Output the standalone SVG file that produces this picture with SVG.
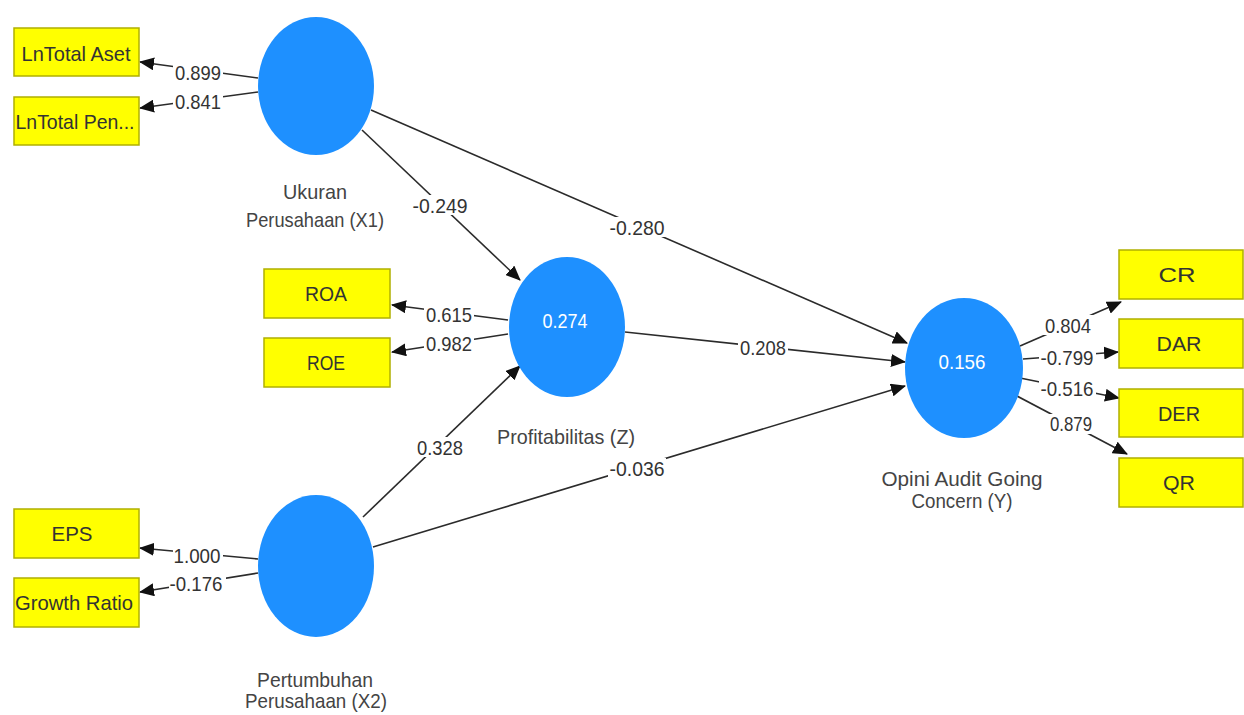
<svg xmlns="http://www.w3.org/2000/svg" width="1244" height="715" viewBox="0 0 1244 715">
<style>
.ln{stroke:#2b2b2b;stroke-width:1.6;fill:none;marker-end:url(#ah)}
.bg{fill:#ffffff}
text{font-family:"Liberation Sans",Arial,sans-serif;font-size:21px;text-anchor:middle}
.num{fill:#333}
.box{fill:#ffff00;stroke:#b0b000;stroke-width:1.5}
.bt{fill:#333}
.lv{fill:#1e90ff}
.lt{fill:#444}
.in{fill:#ffffff}
</style>
<defs>
<marker id="ah" markerWidth="15" markerHeight="13" refX="14" refY="6.5" orient="auto" markerUnits="userSpaceOnUse">
<path d="M0,0 L15,6.5 L0,13 Z" fill="#111"/>
</marker>
</defs>
<rect width="1244" height="715" fill="#ffffff"/>
<g id="connectors">
<line class="ln" x1="258" y1="78" x2="140" y2="62"/>
<line class="ln" x1="258" y1="92" x2="140" y2="108"/>
<line class="ln" x1="508" y1="320" x2="392" y2="305"/>
<line class="ln" x1="508" y1="334" x2="392" y2="352"/>
<line class="ln" x1="258" y1="559" x2="140" y2="548"/>
<line class="ln" x1="258" y1="573" x2="140" y2="592"/>
<line class="ln" x1="1020" y1="346" x2="1121" y2="302"/>
<line class="ln" x1="1023" y1="359" x2="1118" y2="352"/>
<line class="ln" x1="1020" y1="378" x2="1119" y2="398"/>
<line class="ln" x1="1015" y1="395" x2="1127" y2="454"/>
<line class="ln" x1="362" y1="130" x2="520" y2="280"/>
<line class="ln" x1="371" y1="110" x2="907" y2="343"/>
<line class="ln" x1="625" y1="332" x2="905" y2="362"/>
<line class="ln" x1="363" y1="517" x2="520" y2="366"/>
<line class="ln" x1="373" y1="547" x2="905" y2="386"/>
<rect class="bg" x="173" y="62" width="50" height="20"/><text class="num" x="198" y="79.5" textLength="46" lengthAdjust="spacingAndGlyphs">0.899</text>
<rect class="bg" x="173" y="91" width="50" height="20"/><text class="num" x="198" y="108.5" textLength="46" lengthAdjust="spacingAndGlyphs">0.841</text>
<rect class="bg" x="424" y="304" width="50" height="20"/><text class="num" x="449" y="321.5" textLength="46" lengthAdjust="spacingAndGlyphs">0.615</text>
<rect class="bg" x="424" y="333" width="50" height="20"/><text class="num" x="449" y="350.5" textLength="46" lengthAdjust="spacingAndGlyphs">0.982</text>
<rect class="bg" x="173" y="545" width="50" height="20"/><text class="num" x="197" y="562.5" textLength="47" lengthAdjust="spacingAndGlyphs">1.000</text>
<rect class="bg" x="169" y="574" width="57" height="20"/><text class="num" x="196" y="591" textLength="53" lengthAdjust="spacingAndGlyphs">-0.176</text>
<rect class="bg" x="1043" y="315" width="50" height="20"/><text class="num" x="1068" y="332.5" textLength="46" lengthAdjust="spacingAndGlyphs">0.804</text>
<rect class="bg" x="1039" y="347" width="57" height="20"/><text class="num" x="1067" y="364.5" textLength="53" lengthAdjust="spacingAndGlyphs">-0.799</text>
<rect class="bg" x="1039" y="378" width="57" height="20"/><text class="num" x="1067" y="395.5" textLength="53" lengthAdjust="spacingAndGlyphs">-0.516</text>
<rect class="bg" x="1048" y="414" width="46" height="20"/><text class="num" x="1071" y="431" textLength="42" lengthAdjust="spacingAndGlyphs">0.879</text>
<rect class="bg" x="411" y="195" width="58" height="20"/><text class="num" x="440" y="212.5" textLength="55" lengthAdjust="spacingAndGlyphs">-0.249</text>
<rect class="bg" x="608" y="217" width="58" height="20"/><text class="num" x="637" y="234.5" textLength="55" lengthAdjust="spacingAndGlyphs">-0.280</text>
<rect class="bg" x="738" y="337" width="50" height="20"/><text class="num" x="763" y="354.5" textLength="46" lengthAdjust="spacingAndGlyphs">0.208</text>
<rect class="bg" x="415" y="437" width="50" height="20"/><text class="num" x="440" y="454.5" textLength="46" lengthAdjust="spacingAndGlyphs">0.328</text>
<rect class="bg" x="608" y="458" width="58" height="20"/><text class="num" x="637" y="475.5" textLength="55" lengthAdjust="spacingAndGlyphs">-0.036</text>
</g>
<g id="ind-lnaset"><rect class="box" x="14" y="28" width="125" height="48"/><text class="bt" x="76" y="60.5" textLength="109" lengthAdjust="spacingAndGlyphs">LnTotal Aset</text></g>
<g id="ind-lnpen"><rect class="box" x="14" y="97" width="125" height="48"/><text class="bt" x="75" y="128.5" textLength="119" lengthAdjust="spacingAndGlyphs">LnTotal Pen...</text></g>
<g id="ind-roa"><rect class="box" x="264" y="269" width="126" height="49"/><text class="bt" x="326" y="300.5" textLength="42" lengthAdjust="spacingAndGlyphs">ROA</text></g>
<g id="ind-roe"><rect class="box" x="264" y="338" width="126" height="49"/><text class="bt" x="326" y="369.5" textLength="38" lengthAdjust="spacingAndGlyphs">ROE</text></g>
<g id="ind-eps"><rect class="box" x="14" y="509" width="125" height="49"/><text class="bt" x="72" y="540.5" textLength="41" lengthAdjust="spacingAndGlyphs">EPS</text></g>
<g id="ind-growth"><rect class="box" x="14" y="578" width="125" height="49"/><text class="bt" x="74" y="609.5" textLength="118" lengthAdjust="spacingAndGlyphs">Growth Ratio</text></g>
<g id="ind-cr"><rect class="box" x="1119" y="250" width="124" height="49"/><text class="bt" x="1177" y="281.5" textLength="37" lengthAdjust="spacingAndGlyphs">CR</text></g>
<g id="ind-dar"><rect class="box" x="1119" y="319" width="124" height="49"/><text class="bt" x="1179" y="350.5" textLength="45" lengthAdjust="spacingAndGlyphs">DAR</text></g>
<g id="ind-der"><rect class="box" x="1119" y="389" width="124" height="48"/><text class="bt" x="1179" y="420.5" textLength="42" lengthAdjust="spacingAndGlyphs">DER</text></g>
<g id="ind-qr"><rect class="box" x="1119" y="458" width="124" height="49"/><text class="bt" x="1179" y="489.5" textLength="32" lengthAdjust="spacingAndGlyphs">QR</text></g>
<g id="lv-ukuran"><ellipse class="lv" cx="316" cy="86" rx="58" ry="69"/><text class="lt" x="315" y="198.5" textLength="64" lengthAdjust="spacingAndGlyphs">Ukuran</text><text class="lt" x="315" y="227" textLength="138" lengthAdjust="spacingAndGlyphs">Perusahaan (X1)</text></g>
<g id="lv-profit"><ellipse class="lv" cx="567" cy="327" rx="58" ry="70"/><text class="in" x="565" y="327.5" textLength="45" lengthAdjust="spacingAndGlyphs">0.274</text><text class="lt" x="566" y="444" textLength="138" lengthAdjust="spacingAndGlyphs">Profitabilitas (Z)</text></g>
<g id="lv-pertumbuhan"><ellipse class="lv" cx="316" cy="566" rx="58" ry="71"/><text class="lt" x="315" y="686.5" textLength="116" lengthAdjust="spacingAndGlyphs">Pertumbuhan</text><text class="lt" x="316" y="708" textLength="142" lengthAdjust="spacingAndGlyphs">Perusahaan (X2)</text></g>
<g id="lv-opini"><ellipse class="lv" cx="964" cy="368" rx="59" ry="70"/><text class="in" x="962" y="368.5" textLength="47" lengthAdjust="spacingAndGlyphs">0.156</text><text class="lt" x="962" y="485.5" textLength="161" lengthAdjust="spacingAndGlyphs">Opini Audit Going</text><text class="lt" x="962" y="507.5" textLength="101" lengthAdjust="spacingAndGlyphs">Concern (Y)</text></g>
</svg>
